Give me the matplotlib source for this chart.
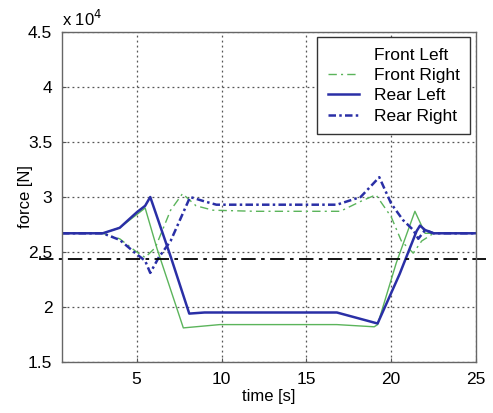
import matplotlib
matplotlib.use("Agg")
import matplotlib.pyplot as plt
from matplotlib.lines import Line2D
from matplotlib.ticker import FuncFormatter

plt.rcParams['font.family'] = ['Liberation Sans', 'DejaVu Sans']

# wheel forces in N
t_rl = [0.6, 3.0, 4.0, 5.0, 5.5, 5.8, 7.0, 8.1, 9.0, 12, 16.8, 19.2, 20.5, 21.5, 21.7, 22.0, 22.5, 25]
f_rl = [2.67, 2.67, 2.72, 2.86, 2.92, 3.00, 2.46, 1.94, 1.95, 1.95, 1.95, 1.85, 2.30, 2.69, 2.74, 2.70, 2.67, 2.67]

t_rr = [0.6, 3.0, 4.0, 5.0, 5.5, 5.8, 6.3, 7.0, 8.15, 9.0, 9.7, 12, 16.8, 18.2, 19.3, 20.0, 20.7, 21.3, 21.6, 22.0, 22.5, 25]
f_rr = [2.67, 2.67, 2.61, 2.48, 2.42, 2.31, 2.45, 2.60, 3.00, 2.96, 2.93, 2.93, 2.93, 3.00, 3.18, 2.94, 2.79, 2.70, 2.62, 2.70, 2.67, 2.67]

t_fr = [0.6, 3.0, 4.0, 5.0, 5.5, 6.1, 7.0, 7.7, 8.5, 9.5, 12, 17.0, 18.2, 19.1, 20.0, 20.6, 21.3, 21.8, 22.5, 25]
f_fr = [2.67, 2.67, 2.62, 2.50, 2.45, 2.54, 2.88, 3.03, 2.92, 2.88, 2.87, 2.87, 2.96, 3.02, 2.82, 2.60, 2.49, 2.60, 2.67, 2.67]

t_fl = [0.6, 3.0, 4.0, 5.0, 5.5, 6.2, 7.75, 9.9, 12, 16.8, 19.0, 19.2, 20.3, 21.4, 22.0, 25]
f_fl = [2.67, 2.67, 2.72, 2.84, 2.90, 2.53, 1.81, 1.84, 1.84, 1.84, 1.82, 1.84, 2.40, 2.87, 2.67, 2.67]

limit_force = 2.435  # horizontal dash-dot reference
scale = 1e4

blue = '#2a2fa6'
green = '#5bb45b'
rr_dash = (3, 1.3, 1, 1.3)
fr_dash = (6, 3, 1.5, 3)

fig = plt.figure(figsize=(4.93, 4.13), dpi=100)
ax = fig.add_axes([0.1258, 0.1235, 0.8397, 0.799])

ax.plot(t_fl, [v * scale for v in f_fl], color=green, lw=1.0)
ax.plot(t_fr, [v * scale for v in f_fr], color=green, lw=1.0, dashes=fr_dash)
ax.plot(t_rl, [v * scale for v in f_rl], color=blue, lw=1.8)
ax.plot(t_rr, [v * scale for v in f_rr], color=blue, lw=1.8, dashes=rr_dash)

ax.plot([-0.75, 25.6], [limit_force * scale] * 2, color='black', lw=1.3,
        dashes=(8, 3, 2, 3), clip_on=False)

ax.set_xlim(0.6, 25)
ax.set_ylim(1.5e4, 4.5e4)
ax.set_xticks([5, 10, 15, 20, 25])
ax.set_yticks([1.5e4, 2e4, 2.5e4, 3e4, 3.5e4, 4e4, 4.5e4])
ax.yaxis.set_major_formatter(FuncFormatter(lambda v, p: '%g' % (v / scale)))
ax.tick_params(direction='in', labelsize=12.5, length=3, color='#555555')
ax.tick_params(axis='x', pad=7)
ax.tick_params(axis='y', pad=7)
ax.grid(True, color='#555555', linestyle=(0, (1.5, 2.5)), lw=0.9)
for s in ax.spines.values():
    s.set_color('#666666')
    s.set_linewidth(1.0)

ax.set_xlabel('time [s]', fontsize=12, labelpad=2)
ax.set_ylabel('force [N]', fontsize=12, labelpad=-4)
ax.text(0.0, 1.01, 'x 10$^4$', transform=ax.transAxes, fontsize=12, ha='left', va='bottom')

handles = [Line2D([], [], color='none'),
           Line2D([], [], color=green, lw=1.0, dashes=fr_dash),
           Line2D([], [], color=blue, lw=1.8),
           Line2D([], [], color=blue, lw=1.8, dashes=rr_dash)]
labels = ['Front Left', 'Front Right', 'Rear Left', 'Rear Right']
leg = ax.legend(handles, labels, loc='upper right', bbox_to_anchor=(0.986, 0.985),
                fontsize=12.5, frameon=True, fancybox=False, framealpha=1,
                edgecolor='#333333', handlelength=1.8, handletextpad=0.85,
                labelspacing=0.3, borderaxespad=0, borderpad=0.6)
leg.get_frame().set_linewidth(1.0)

fig.savefig('out.png', dpi=100)
